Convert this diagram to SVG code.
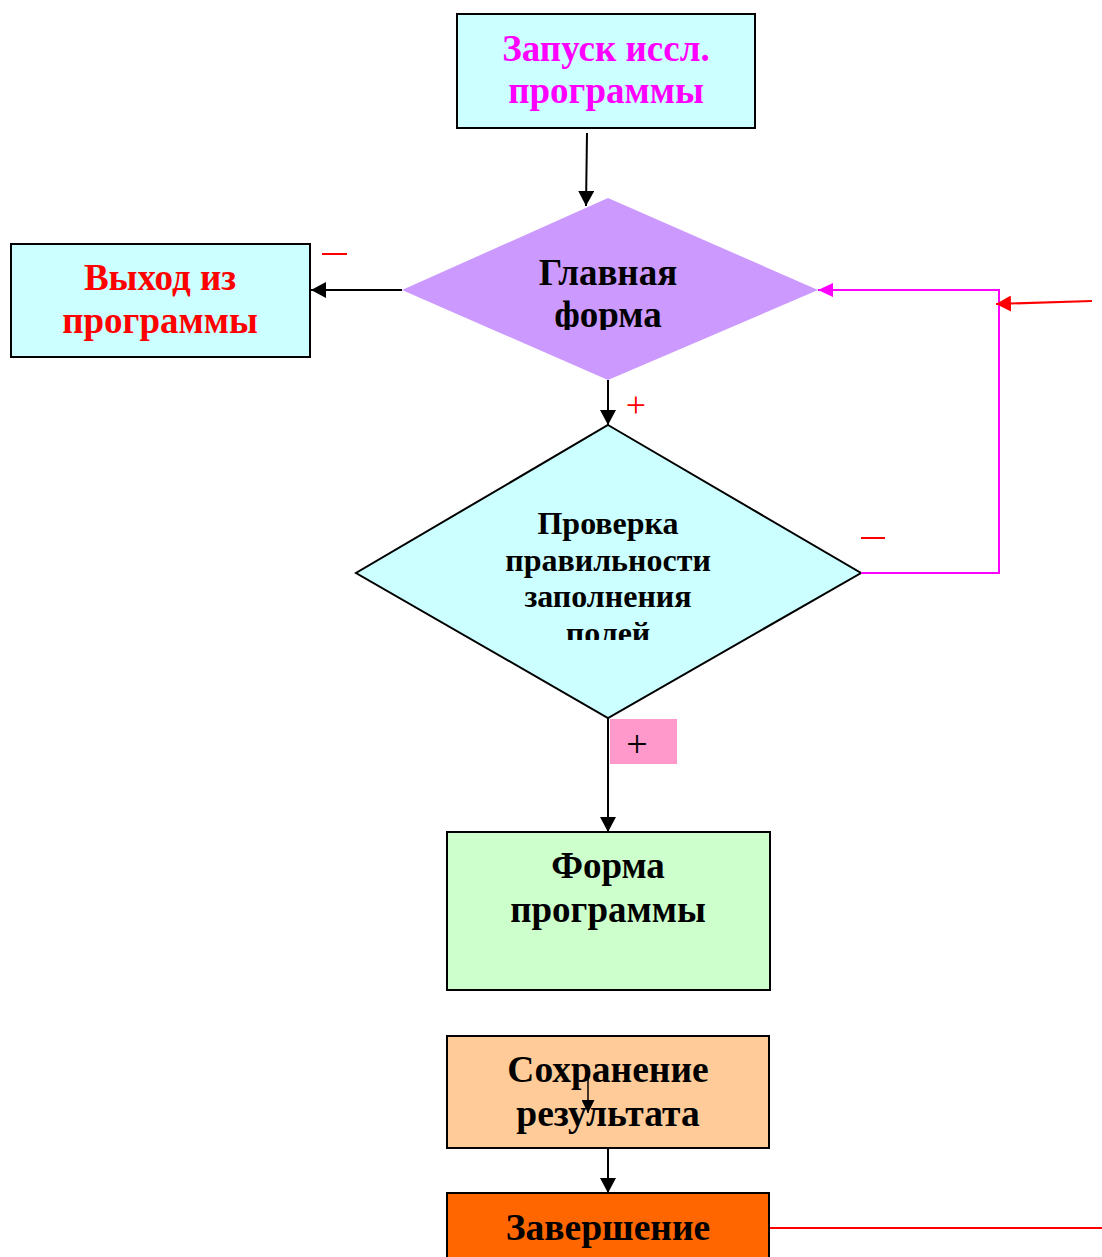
<svg xmlns="http://www.w3.org/2000/svg" width="1102" height="1257" viewBox="0 0 1102 1257">
<defs>
<style>
.t{font-family:"Liberation Serif","Times New Roman",serif;font-weight:bold;text-anchor:middle}
.p{font-family:"Liberation Serif","Times New Roman",serif;text-anchor:middle}
.box{stroke:#000;stroke-width:2}
.c{fill:none;stroke:#000;stroke-width:2}
</style>
<marker id="ab" viewBox="0 0 15 16" refX="15" refY="8" markerWidth="15" markerHeight="16" markerUnits="userSpaceOnUse" orient="auto"><path d="M0,0L15,8L0,16z" fill="#000"/></marker>
<marker id="as" viewBox="0 0 13 13" refX="13" refY="6.5" markerWidth="13" markerHeight="13" markerUnits="userSpaceOnUse" orient="auto"><path d="M0,0L13,6.5L0,13z" fill="#000"/></marker>
<marker id="am" viewBox="0 0 15 14" refX="15" refY="7" markerWidth="15" markerHeight="14" markerUnits="userSpaceOnUse" orient="auto"><path d="M0,0L15,7L0,14z" fill="#FF00FF"/></marker>
<marker id="ar" viewBox="0 0 15 16" refX="15" refY="8" markerWidth="15" markerHeight="16" markerUnits="userSpaceOnUse" orient="auto"><path d="M0,0L15,8L0,16z" fill="#FF0000"/></marker>
<clipPath id="cl1"><rect x="400" y="240" width="420" height="90"/></clipPath>
<clipPath id="cl2"><rect x="360" y="490" width="500" height="150"/></clipPath>
</defs>
<rect width="1102" height="1257" fill="#fff"/>
<g id="start">
<rect class="box" x="457" y="14" width="298" height="114" fill="#CCFFFF"/>
<text class="t" x="606" y="61" font-size="37" fill="#FF00FF">Запуск иссл.</text>
<text class="t" x="606" y="103" font-size="37" fill="#FF00FF">программы</text>
</g>
<g id="main">
<polygon points="608,198 818,290 608,380 402,290" fill="#CC99FF"/>
<g clip-path="url(#cl1)">
<text class="t" x="608" y="285" font-size="37" fill="#000">Главная</text>
<text class="t" x="608" y="327" font-size="37" fill="#000">форма</text>
</g>
</g>
<g id="exit">
<rect class="box" x="11" y="244" width="299" height="113" fill="#CCFFFF"/>
<text class="t" x="160" y="290" font-size="37" fill="#FF0000">Выход из</text>
<text class="t" x="160" y="333" font-size="37" fill="#FF0000">программы</text>
</g>
<g id="check">
<polygon points="608,425 861,573 608,718 356,573" fill="#CCFFFF" stroke="#000" stroke-width="2"/>
<g clip-path="url(#cl2)">
<text class="t" x="608" y="534" font-size="32" fill="#000">Проверка</text>
<text class="t" x="608" y="571" font-size="32" fill="#000">правильности</text>
<text class="t" x="608" y="607" font-size="32" fill="#000">заполнения</text>
<text class="t" x="608" y="644" font-size="32" fill="#000">полей</text>
</g>
</g>
<g id="plusbox">
<rect x="610" y="719" width="67" height="45" fill="#FF99CC"/>
<text class="p" x="637" y="757" font-size="38" fill="#000">+</text>
</g>
<g id="form">
<rect class="box" x="447" y="832" width="323" height="158" fill="#CCFFCC"/>
<text class="t" x="608" y="878" font-size="37" fill="#000">Форма</text>
<text class="t" x="608" y="922" font-size="37" fill="#000">программы</text>
</g>
<g id="save">
<rect class="box" x="447" y="1036" width="322" height="112" fill="#FFCC99"/>
<text class="t" x="608" y="1082" font-size="37.5" fill="#000">Сохранение</text>
<text class="t" x="608" y="1126" font-size="37.5" fill="#000">результата</text>
</g>
<g id="end">
<rect class="box" x="447" y="1193" width="322" height="70" fill="#FF6600"/>
<text class="t" x="608" y="1240" font-size="37.5" fill="#000">Завершение</text>
</g>
<g id="connectors">
<line class="c" x1="587" y1="133" x2="586" y2="206" marker-end="url(#ab)"/>
<line class="c" x1="402" y1="290" x2="311" y2="290" marker-end="url(#ab)"/>
<line class="c" x1="608" y1="380" x2="608" y2="425" marker-end="url(#ab)"/>
<polyline points="861,573 999,573 999,290 818,290" fill="none" stroke="#FF00FF" stroke-width="2" marker-end="url(#am)"/>
<line x1="1092" y1="301" x2="996" y2="304" stroke="#FF0000" stroke-width="2" marker-end="url(#ar)"/>
<line class="c" x1="608" y1="718" x2="608" y2="832" marker-end="url(#ab)"/>
<line x1="588" y1="1078" x2="588" y2="1113" stroke="#000" stroke-width="1.5" marker-end="url(#as)"/>
<line class="c" x1="608" y1="1148" x2="608" y2="1193" marker-end="url(#ab)"/>
<line x1="770" y1="1228" x2="1102" y2="1228" stroke="#FF0000" stroke-width="2"/>
</g>
<g id="labels">
<line x1="322" y1="254" x2="347" y2="254" stroke="#FF0000" stroke-width="2"/>
<text class="p" x="636" y="417" font-size="36" fill="#FF0000">+</text>
<line x1="861" y1="538" x2="885" y2="538" stroke="#FF0000" stroke-width="2"/>
</g>
</svg>
